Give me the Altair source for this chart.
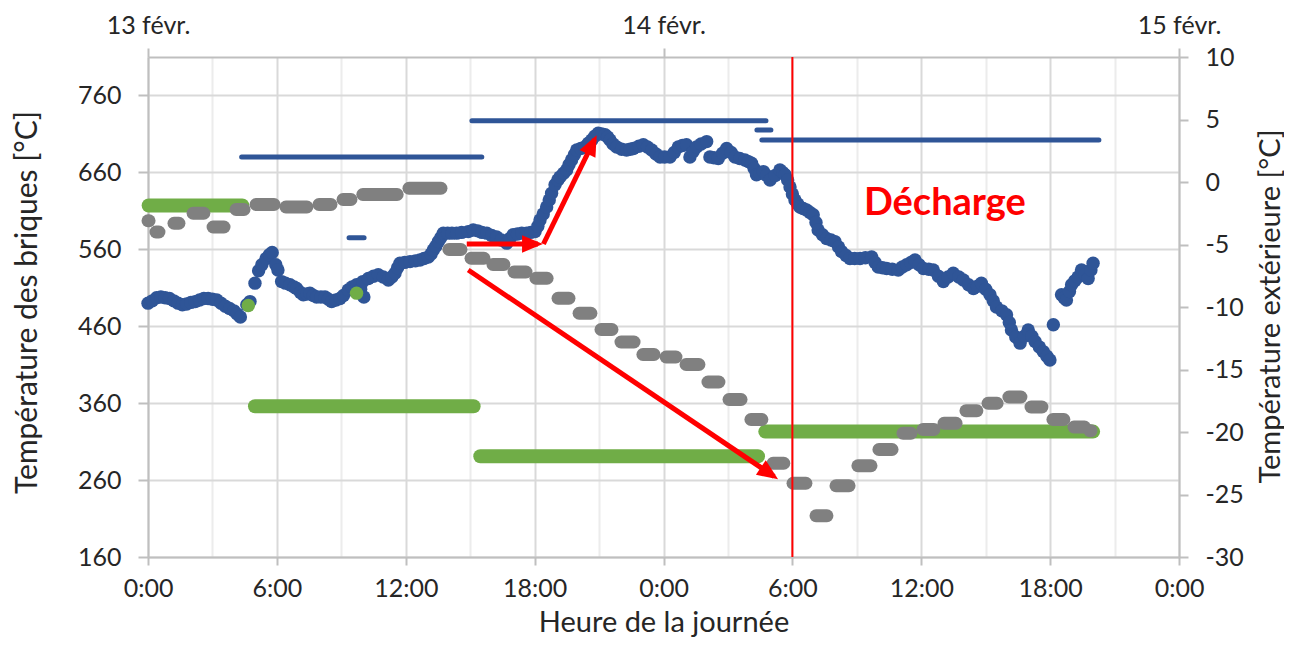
import json
import math
import altair as alt
import pandas as pd

# ---------------- data ----------------
day_labels = ["13 févr.", "14 févr.", "15 févr."]

# brick temperature (left axis, °C) - blue dots
brick_hours = [
    0.00, 0.20, 0.40, 0.60, 0.80, 1.00, 1.20, 1.40, 1.60, 1.80, 2.00, 2.20, 2.40, 2.60, 2.80,
    3.00, 3.20, 3.40, 3.60, 3.80, 4.00, 4.15, 4.30, 4.60, 4.75, 4.98, 5.15, 5.30, 5.50, 5.65,
    5.78, 5.95, 6.05, 6.22, 6.40, 6.61, 6.80, 6.92, 7.10, 7.23, 7.40, 7.54, 7.70, 7.85, 8.05,
    8.24, 8.40, 8.55, 8.75, 8.94, 9.10, 9.32, 9.50, 9.71, 9.90, 10.00, 10.05, 10.26, 10.50,
    10.72, 10.95, 11.19, 11.35, 11.50, 11.62, 11.73, 11.95, 12.20, 12.45, 12.66, 12.85, 13.05,
    13.18, 13.28, 13.40, 13.52, 13.63, 13.75, 13.95, 14.15, 14.37, 14.60, 14.91, 15.14, 15.35,
    15.55, 15.77, 16.00, 16.23, 16.45, 16.70, 16.85, 17.00, 17.20, 17.40, 17.63, 17.82, 18.02,
    18.15, 18.25, 18.40, 18.56, 18.68, 18.79, 18.95, 19.08, 19.18, 19.35, 19.49, 19.60, 19.72,
    19.85, 19.96, 20.15, 20.34, 20.50, 20.66, 20.80, 20.96, 21.12, 21.28, 21.40, 21.51, 21.65,
    21.82, 22.05, 22.28, 22.45, 22.60, 22.85, 23.06, 23.25, 23.45, 23.65, 23.84, 24.05, 24.30,
    24.50, 24.69, 24.88, 25.07, 25.23, 25.38, 25.54, 25.75, 26.01, 26.16, 26.35, 26.55, 26.75,
    26.94, 27.15, 27.33, 27.55, 27.79, 27.95, 28.10, 28.22, 28.33, 28.50, 28.65, 28.80, 28.96,
    29.20, 29.42, 29.55, 29.66, 29.78, 29.89, 30.00, 30.12, 30.25, 30.35, 30.50, 30.66, 30.82,
    30.97, 31.10, 31.20, 31.40, 31.59, 31.80, 31.98, 32.15, 32.29, 32.50, 32.68, 32.90, 33.15,
    33.40, 33.69, 33.85, 34.00, 34.20, 34.39, 34.65, 34.93, 35.12, 35.32, 35.52, 35.71, 35.90,
    36.10, 36.35, 36.56, 36.80, 37.03, 37.25, 37.49, 37.75, 37.96, 38.20, 38.43, 38.62, 38.80,
    39.00, 39.20, 39.35, 39.50, 39.75, 39.97, 40.10, 40.20, 40.40, 40.60, 40.80, 40.98, 41.15,
    41.30, 41.50, 41.68, 41.85, 41.99, 42.15, 42.53, 42.65, 42.76, 42.90, 43.00, 43.15, 43.30,
    43.46, 43.62, 43.77, 43.90, 44.00]
brick_temp = [
    490, 493, 497, 498, 497, 496, 493, 490, 488, 489, 491, 492, 494, 496, 496,
    495, 494, 490, 486, 483, 480, 476, 472, 488, 492, 516, 532, 540, 548, 553,
    556, 540, 533, 518, 516, 514, 511, 509, 504, 501, 502, 503, 500, 498, 498,
    498, 495, 492, 494, 496, 500, 507, 511, 514, 508, 518, 498, 522, 525,
    527, 524, 520, 524, 529, 536, 542, 543, 544, 545, 546, 548, 550,
    554, 559, 564, 570, 575, 581, 581, 581, 581, 582, 583, 585, 584,
    582, 581, 578, 576, 572, 568, 574, 579, 580, 581, 581, 582, 583,
    590, 598, 606, 615, 624, 633, 644, 650, 654, 659, 663, 670, 676,
    683, 689, 691, 693, 698, 702, 707, 711, 710, 709, 706, 702, 697,
    693, 690, 689, 690, 691, 694, 696, 693, 689, 684, 680, 680, 680,
    686, 693, 695, 696, 680, 687, 693, 697, 700, 680, 679, 678, 685,
    691, 686, 680, 678, 676, 674, 672, 665, 657, 659, 661, 656, 650,
    656, 663, 660, 657, 650, 641, 632, 624, 619, 615, 613, 611, 608,
    605, 595, 585, 579, 574, 572, 570, 563, 557, 552, 548, 548, 548,
    549, 550, 543, 537, 536, 535, 534, 533, 537, 540, 543, 546, 540,
    535, 534, 533, 525, 518, 524, 529, 524, 520, 514, 509, 512, 516,
    508, 501, 493, 485, 480, 475, 465, 455, 446, 438, 447, 455, 447,
    440, 433, 427, 421, 416, 462, 501, 497, 494, 505, 514, 519, 524,
    533, 527, 522, 533, 542]

# blue thin plateaus (left axis)
setpoint_start = [4.36, 9.36, 15.08, 28.35, 28.58]
setpoint_end = [15.54, 10.06, 28.77, 29.00, 44.27]
setpoint_temp = [680, 575, 727, 715, 702]

# green plateaus (left axis)
green_start = [0.03, 4.98, 15.47, 28.74]
green_end = [4.39, 15.16, 28.40, 44.00]
green_temp = [617, 356, 291, 323]
green_dot_hours = [4.67, 9.71]
green_dot_temp = [487, 503]

# outdoor temperature (right axis, °C) - grey steps
outdoor_start = [0.0, 0.37, 1.21, 2.10, 3.03, 4.10, 5.03, 6.42, 7.96, 9.08, 10.0, 12.15,
                 14.01, 15.04, 16.06, 17.04, 18.06, 19.09, 20.07, 21.09, 22.02, 23.04, 24.12,
                 25.05, 26.07, 27.05, 28.07, 29.10, 30.03, 31.10, 32.03, 33.05, 34.03, 35.15,
                 36.08, 37.06, 38.08, 39.11, 40.08, 41.11, 42.13, 43.11, 43.85]
outdoor_end = [0.05, 0.51, 1.44, 2.60, 3.54, 4.47, 5.87, 7.40, 8.52, 9.45, 11.6, 13.64,
               14.57, 15.64, 16.57, 17.60, 18.58, 19.60, 20.62, 21.60, 22.63, 23.56, 24.58,
               25.65, 26.58, 27.61, 28.58, 29.60, 30.63, 31.61, 32.64, 33.66, 34.64, 35.52,
               36.59, 37.62, 38.59, 39.53, 40.64, 41.62, 42.64, 43.60, 43.90]
outdoor_temp = [-3.1, -4.0, -3.3, -2.5, -3.6, -2.2, -1.8, -2.0, -1.8, -1.4, -1.0, -0.5,
                -5.4, -6.1, -6.6, -7.2, -7.7, -9.3, -10.5, -11.8, -12.8, -13.8, -14.0,
                -14.6, -16.0, -17.4, -19.0, -22.5, -24.1, -26.7, -24.3, -22.7, -21.4, -20.1,
                -19.8, -19.3, -18.3, -17.7, -17.2, -18.0, -19.0, -19.6, -19.9]

# annotations
discharge_hour = [30]
label_text = ["Décharge"]
label_hour = [37.1]
label_temp = [604.6]
arrow_h0 = [14.84, 18.41, 14.91]
arrow_t0 = [566.9, 566.9, 533.1]
arrow_h1 = [18.16, 20.79, 29.15]
arrow_t1 = [566.9, 702.8, 264.7]

# ---------------- styling ----------------
W, H = 1031, 500
X_DOM = [0, 48]
YL_DOM = [160, 810]
YR_DOM = [-30, 10]
BLUE = "#2F5597"
GREEN = "#70AD47"
GRAY = "#808080"
RED = "#FF0000"
FONT = "Lato"
TXT = "#262626"
AXC = "#bfbfbf"
GRID = "#d9d9d9"
MINOR = "#ececec"

common = dict(labelFont=FONT, labelFontSize=25, labelColor=TXT, titleFont=FONT,
              titleFontSize=30, titleFontWeight="normal", titleColor=TXT,
              domainColor=AXC, domainWidth=2, tickColor=AXC, tickWidth=2)


def xs():
    return alt.Scale(domain=X_DOM, nice=False, zero=False)


def yl():
    return alt.Scale(domain=YL_DOM, nice=False, zero=False)


def yr():
    return alt.Scale(domain=YR_DOM, nice=False, zero=False)


bottom_axis = alt.Axis(orient="bottom", values=list(range(0, 49, 6)),
                       labelExpr="(datum.value % 24) + ':00'", labelFlush=False,
                       labelOverlap=False, labelBaseline="alphabetic", labelPadding=31,
                       tickSize=8, grid=True, gridColor=GRID, gridWidth=2,
                       titleX=W / 2, titleY=74, titleAlign="center",
                       titleBaseline="alphabetic", **{**common, "titleFontSize": 29})
left_axis = alt.Axis(orient="left", values=list(range(160, 761, 100)), tickSize=10,
                     labelPadding=17, labelBaseline="middle", grid=True, gridColor=GRID,
                     gridWidth=2, titleAngle=270, titleX=-112, titleY=245,
                     titleAlign="center", titleBaseline="alphabetic", **common)
right_axis = alt.Axis(orient="right", values=list(range(-30, 11, 5)),
                      labelExpr="datum.value + ''", tickSize=9, labelPadding=17,
                      labelBaseline="middle", grid=False, titleAngle=270, titleX=100,
                      titleY=249, titleAlign="center", titleBaseline="alphabetic",
                      **{**common, "titleFontSize": 29})
top_axis = alt.Axis(orient="top", values=[0, 24, 48],
                    labelExpr=json.dumps(day_labels, ensure_ascii=False) + "[round(datum.value / 24)]",
                    labelFlush=False, labelOverlap=False, labelBaseline="alphabetic",
                    labelPadding=15, tickSize=9, grid=False, **common)
minor_axis = alt.Axis(orient="top", values=list(range(3, 48, 6)), grid=True,
                      gridColor=MINOR, gridWidth=2, labels=False, ticks=False, domain=False)

# ---------------- tables ----------------
brick_df = pd.DataFrame({"h": brick_hours, "t": brick_temp})
sp_df = pd.DataFrame({"s": setpoint_start, "e": setpoint_end, "v": setpoint_temp})
green_df = pd.DataFrame({"s": green_start, "e": green_end, "v": green_temp})
gdot_df = pd.DataFrame({"h": green_dot_hours, "t": green_dot_temp})
out_df = pd.DataFrame({"s": outdoor_start, "e": outdoor_end, "v": outdoor_temp})
vline_df = pd.DataFrame({"h": discharge_hour})
text_df = pd.DataFrame({"h": label_hour, "t": label_temp, "txt": label_text})

pxh = W / (X_DOM[1] - X_DOM[0])
pxt = H / (YL_DOM[1] - YL_DOM[0])
angles = [math.degrees(math.atan2((b - a) * pxh, (d - c) * pxt)) % 360
          for a, b, c, d in zip(arrow_h0, arrow_h1, arrow_t0, arrow_t1)]
arrow_df = pd.DataFrame({"h0": arrow_h0, "t0": arrow_t0, "h1": arrow_h1, "t1": arrow_t1,
                         "ang": angles})

# ---------------- layers ----------------
grid_minor = alt.Chart(vline_df).mark_rule(opacity=0).encode(
    x=alt.X("h:Q", scale=xs(), axis=minor_axis, title=None)
)
blue_pts = alt.Chart(brick_df).mark_circle(size=180, opacity=1, color=BLUE).encode(
    x=alt.X("h:Q", scale=xs(), axis=bottom_axis, title="Heure de la journée"),
    y=alt.Y("t:Q", scale=yl(), axis=left_axis, title="Température des briques [°C]"),
)
blue_lines = alt.Chart(sp_df).mark_rule(strokeWidth=5, strokeCap="round", color=BLUE).encode(
    x=alt.X("s:Q", scale=xs(), axis=None), x2="e:Q",
    y=alt.Y("v:Q", scale=yl(), axis=None),
)
green_lines = alt.Chart(green_df).mark_rule(strokeWidth=14, strokeCap="round", color=GREEN).encode(
    x=alt.X("s:Q", scale=xs(), axis=None), x2="e:Q",
    y=alt.Y("v:Q", scale=yl(), axis=None),
)
green_dots = alt.Chart(gdot_df).mark_circle(size=180, opacity=1, color=GREEN).encode(
    x=alt.X("h:Q", scale=xs(), axis=None),
    y=alt.Y("t:Q", scale=yl(), axis=None),
)
gray = alt.Chart(out_df).mark_rule(strokeWidth=13, strokeCap="round", color=GRAY).encode(
    x=alt.X("s:Q", scale=xs(), axis=top_axis, title=None), x2="e:Q",
    y=alt.Y("v:Q", scale=yr(), axis=right_axis, title="Température extérieure [°C]"),
)
vline = alt.Chart(vline_df).mark_rule(color=RED, strokeWidth=2).encode(
    x=alt.X("h:Q", scale=xs(), axis=None)
)
arrows = alt.Chart(arrow_df).mark_rule(color=RED, strokeWidth=5, strokeCap="butt").encode(
    x=alt.X("h0:Q", scale=xs(), axis=None), x2="h1:Q",
    y=alt.Y("t0:Q", scale=yl(), axis=None), y2="t1:Q",
)
heads = alt.Chart(arrow_df).mark_point(
    shape="M0,-0.3L-0.55,1L0.55,1Z", size=1024, filled=True, opacity=1, color=RED, strokeWidth=0
).encode(
    x=alt.X("h1:Q", scale=xs(), axis=None),
    y=alt.Y("t1:Q", scale=yl(), axis=None),
    angle=alt.Angle("ang:Q", scale=None),
)
label = alt.Chart(text_df).mark_text(
    font=FONT, fontSize=38, fontWeight="bold", color=RED, align="center", baseline="alphabetic"
).encode(
    x=alt.X("h:Q", scale=xs(), axis=None),
    y=alt.Y("t:Q", scale=yl(), axis=None),
    text="txt:N",
)

chart = (
    alt.layer(blue_pts, grid_minor, blue_lines, green_lines, green_dots, gray,
              vline, arrows, heads, label)
    .resolve_scale(y="independent")
    .resolve_axis(x="independent", y="independent")
    .properties(width=W, height=H,
                padding={"left": 140, "top": 49, "right": 105, "bottom": 81},
                autosize=alt.AutoSizeParams(type="none"))
    .configure_view(stroke=None)
)

chart.save("out.html", embed_options={"renderer": "svg", "actions": False})
